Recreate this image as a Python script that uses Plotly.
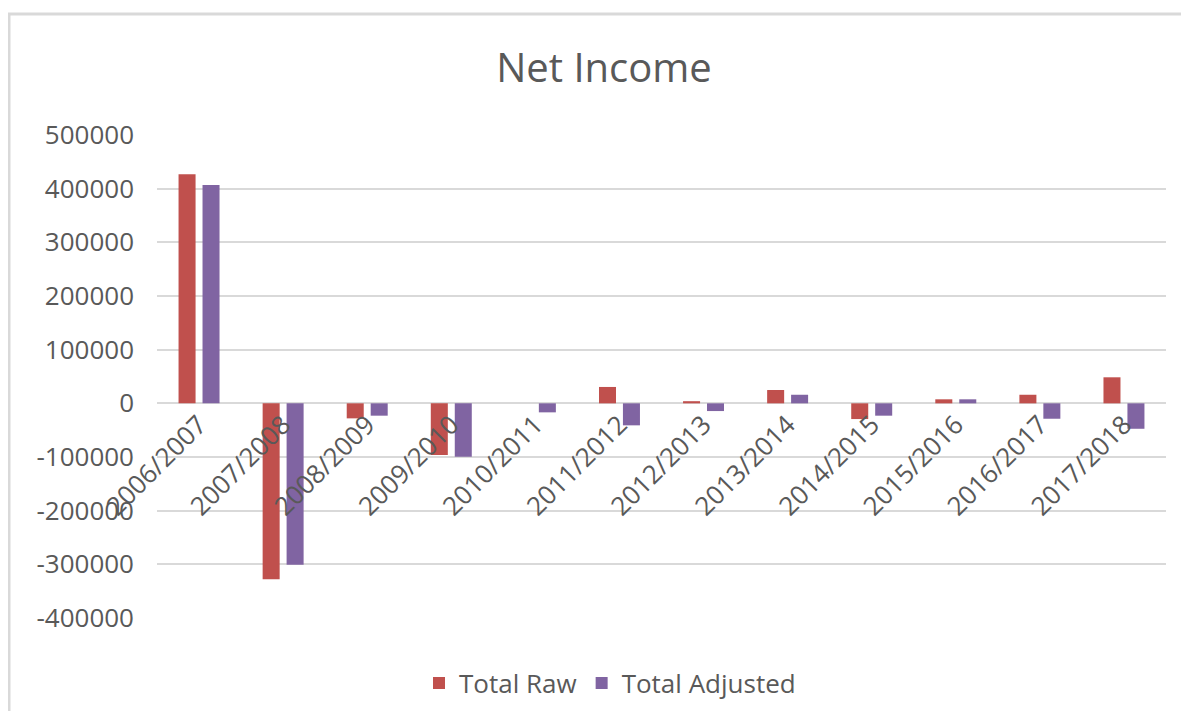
import plotly.graph_objects as go

categories = ["2006/2007", "2007/2008", "2008/2009", "2009/2010", "2010/2011", "2011/2012",
              "2012/2013", "2013/2014", "2014/2015", "2015/2016", "2016/2017", "2017/2018"]
total_raw = [427000, -328000, -28000, -96500, 0, 30500, 4000, 24800, -29300, 7500, 16000, 48500]
total_adjusted = [407000, -301000, -23000, -99600, -16800, -41000, -14400, 16000, -23000, 7500, -28700, -47400]
y_tick_vals = [500000, 400000, 300000, 200000, 100000, 0, -100000, -200000, -300000, -400000]
y_tick_text = ["500000", "400000", "300000", "200000", "100000", "0",
               "-100000", "-200000", "-300000", "-400000"]

TXT = "#595959"
GRID = "#d9d9d9"
FONT = "Open Sans"

fig = go.Figure()
fig.add_trace(go.Bar(name="Total Raw", x=categories, y=total_raw,
                     marker=dict(color="#C0504D", line=dict(width=0))))
fig.add_trace(go.Bar(name="Total Adjusted", x=categories, y=total_adjusted,
                     marker=dict(color="#8064A2", line=dict(width=0))))

# page body has an 8px margin; figure coordinates = screen - 8
W, H = 1173, 703
L, R, T, B = 149, 15, 127, 93
pw = W - L - R
ph = H - T - B

fig.update_layout(
    width=W, height=H,
    margin=dict(l=L, r=R, t=T, b=B, autoexpand=False),
    paper_bgcolor="white", plot_bgcolor="white",
    font=dict(family=FONT, color=TXT, size=26),
    title=dict(text="Net Income", x=596 / W, xanchor="center", xref="container",
               y=1 - 60 / H, yanchor="middle", yref="container",
               font=dict(family=FONT, size=40, color=TXT)),
    barmode="group", bargap=0.43, bargroupgap=0.29,
    showlegend=True,
    legend=dict(orientation="h", x=(602 - L) / pw, xanchor="center", xref="paper",
                y=-(675 - (T + ph)) / ph, yanchor="middle", yref="paper",
                bgcolor="rgba(0,0,0,0)",
                font=dict(family=FONT, size=26, color=TXT), itemwidth=30),
    xaxis=dict(anchor="free", position=4 / 9, showline=False, showgrid=False, automargin=False,
               tickangle=-45, ticks="", tickfont=dict(family=FONT, size=26, color=TXT)),
    yaxis=dict(range=[-400000, 500000], domain=[0, 1], tickvals=y_tick_vals, ticktext=y_tick_text,
               showgrid=True, gridcolor=GRID, gridwidth=1.5, zeroline=True, zerolinecolor=GRID,
               zerolinewidth=1.5, showline=False, ticks="", ticklabelstandoff=22, automargin=False,
               tickfont=dict(family=FONT, size=26, color=TXT)),
    shapes=[dict(type="rect", xref="paper", yref="paper",
                 x0=(1 - L) / pw, x1=(W + 30 - L) / pw,
                 y0=-(B + 30) / ph, y1=1 + (T - 6) / ph,
                 line=dict(color=GRID, width=3), fillcolor="rgba(0,0,0,0)", layer="below")],
)

fig.write_html("out.html")
